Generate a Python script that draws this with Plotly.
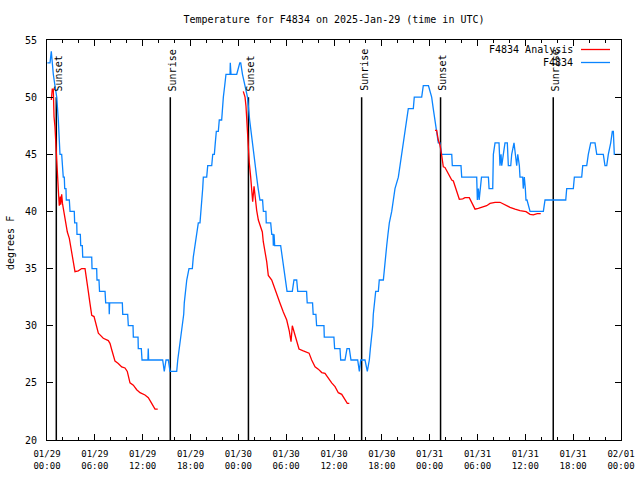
import pandas as pd
import plotly.graph_objects as go

BASE = pd.Timestamp("2025-01-29 00:00")

# Observed station temperature (hours after 01/29 00:00 UTC, degrees F)
obs_hours = [0.04, 0.38, 0.54, 0.66, 0.79, 1.00, 1.22, 1.42, 1.51, 1.63, 1.84, 1.92, 1.97, 2.04, 2.17, 2.22,
             2.38, 2.42, 2.80, 2.89, 3.42, 3.47, 3.73, 3.76, 4.18, 4.23, 4.43, 4.48, 5.61, 5.65, 6.23, 6.27,
             6.52, 6.59, 7.28, 7.36, 7.78, 7.81, 7.86, 9.45, 9.50, 10.12, 10.20, 10.79, 10.83, 11.42, 11.45,
             11.83, 11.92, 12.66, 12.70, 12.75, 14.51, 14.71, 14.93, 15.22, 15.43, 16.27, 16.40, 16.60,
             16.81, 17.02, 17.15, 17.22, 17.35, 17.53, 17.81, 18.23, 18.35, 18.57, 18.78, 18.98, 19.19,
             19.32, 19.44, 19.53, 19.61, 20.03, 20.16, 20.66, 20.79, 20.99, 21.11, 21.24, 21.49, 21.61,
             21.91, 21.99, 22.12, 22.29, 22.45, 22.96, 22.99, 23.08, 23.80, 24.18, 24.30, 24.52, 24.84,
             25.15, 25.42, 25.59, 25.75, 25.88, 26.09, 26.30, 26.49, 26.71, 27.04, 27.14, 27.46, 27.50,
             28.06, 28.19, 28.35, 28.39, 28.48, 28.56, 29.31, 29.52, 29.73, 29.89, 30.11, 30.77, 30.98,
             31.32, 31.45, 32.56, 32.64, 33.31, 33.39, 33.73, 33.82, 34.74, 34.78, 35.99, 36.08, 36.75,
             36.84, 37.38, 37.63, 37.92, 38.13, 38.97, 39.18, 39.35, 39.89, 40.18, 40.43, 40.56, 40.73,
             40.86, 40.93, 41.06, 41.23, 41.56, 41.68, 42.19, 42.31, 42.43, 42.61, 42.77, 42.94, 43.24,
             43.44, 43.65, 44.07, 44.28, 44.49, 44.69, 44.91, 45.12, 45.32, 45.95, 46.07, 47.00, 47.20,
             47.85, 48.25, 48.45, 48.66, 48.88, 49.08, 49.29, 49.50, 50.77, 50.84, 51.93, 52.02, 53.90,
             53.98, 54.11, 54.21, 54.50, 55.37, 55.45, 55.91, 55.99, 56.20, 56.70, 56.82, 56.95, 57.04,
             57.24, 57.45, 57.74, 57.87, 58.17, 58.29, 58.58, 58.71, 58.92, 59.05, 59.25, 59.33, 59.67,
             59.74, 59.87, 60.00, 60.08, 60.21, 60.59, 62.26, 62.47, 65.07, 65.19, 66.02, 66.15, 67.07,
             67.20, 67.70, 67.90, 68.20, 68.74, 68.96, 69.78, 69.99, 70.21, 70.41, 70.71, 70.91, 71.04,
             71.16, 72.00]
obs_temp = [53, 53, 54, 53, 52, 51, 50, 48, 47, 45, 45, 44, 44, 43, 43, 42,
            42, 41, 41, 40, 40, 39, 39, 38, 38, 37, 37, 36, 36, 35, 35, 34,
            34, 33, 33, 32, 32, 31, 32, 32, 31, 31, 30, 30, 29, 29, 28,
            28, 27, 27, 28, 27, 27, 26, 27, 27, 26, 26, 27, 28,
            29, 30, 31, 32, 33, 34, 35, 35, 36, 37, 38, 39, 39,
            40, 41, 42, 43, 43, 44, 44, 45, 45, 46, 47, 47, 48,
            48, 49, 50, 51, 52, 52, 53, 52, 52, 53, 53, 52, 51,
            50, 48, 47, 46, 45, 44, 43, 42, 41, 41, 40, 40, 39,
            39, 38, 38, 37, 38, 37, 37, 36, 35, 34, 33, 33, 34,
            34, 33, 33, 32, 32, 31, 31, 30, 30, 29, 29, 28, 28,
            27, 27, 28, 28, 27, 27, 26, 27, 27, 26, 27, 28, 29,
            30, 31, 32, 33, 33, 34, 34, 35, 36, 37, 38, 39, 40,
            41, 42, 43, 44, 45, 46, 47, 48, 49, 49, 50, 50, 51,
            51, 50, 49, 48, 47, 46, 46, 45, 45, 44, 44, 43, 43,
            41, 42, 41, 43, 43, 42, 42, 45, 46, 46, 44, 45, 44,
            45, 46, 46, 44, 44, 45, 46, 45, 44, 45, 44, 43, 43,
            42, 43, 42, 41, 41, 40, 40, 41, 41, 42, 42, 43, 43,
            44, 44, 45, 46, 46, 45, 45, 44, 44, 45, 46, 47, 47,
            45, 45]

# Analysis temperature, three segments separated by gaps
ana_hours = [0.54, 0.66, 0.79, 0.80, 0.88, 1.00, 1.09, 1.22, 1.29, 1.42, 1.54, 1.67, 1.72, 1.84, 1.94,
             2.04, 2.26, 2.35, 2.55, 2.80, 3.10, 3.30, 3.51, 3.93, 4.35, 4.77, 4.98, 5.18, 5.39, 5.61,
             5.90, 6.15, 6.44, 6.65, 7.06, 7.69, 7.90, 8.12, 8.32, 8.53, 8.94, 9.37, 9.78, 10.07, 10.41,
             10.83, 11.25, 11.67, 12.29, 12.71, 13.13, 13.55, 13.89,
             None,
             24.62, 24.84, 24.96, 25.05, 25.13, 25.25, 25.38, 25.55, 25.68, 25.80, 25.97, 26.09, 26.30,
             26.51, 26.81, 27.01, 27.13, 27.35, 27.56, 27.76, 28.19, 28.39, 28.81, 29.23, 29.64, 30.07,
             30.40, 30.61, 30.77, 30.98, 31.32, 31.61, 32.15, 32.87, 33.20, 33.62, 34.03, 34.46, 34.87,
             35.29, 35.71, 36.13, 36.54, 36.97, 37.38, 37.67, 37.92,
             None,
             48.67, 48.88, 49.08, 49.30, 49.51, 49.71, 49.92, 50.34, 50.77, 50.97, 51.18, 51.39, 51.72,
             52.15, 52.43, 52.97, 53.27, 53.69, 54.10, 54.73, 55.15, 55.57, 56.20, 56.82, 57.24, 57.67,
             58.08, 58.71, 59.33, 60.09, 60.59, 61.00, 61.50, 61.93]
ana_temp = [49.75, 50.7, 50.7, 49.2, 48.3, 47.4, 46.0, 44.4, 42.9, 41.9, 40.5, 41.3, 40.6, 41.5, 40.7,
            40.3, 39.4, 39.0, 38.2, 37.65, 36.5, 35.6, 34.73, 34.8, 35.0, 35.0, 34.15, 33.0, 31.96, 30.9,
            30.8, 30.06, 29.34, 29.2, 28.9, 28.7, 28.46, 27.9, 27.3, 26.9, 26.7, 26.4, 26.3, 26.0, 25.0,
            24.8, 24.4, 24.14, 23.94, 23.7, 23.2, 22.7, 22.7,
            None,
            50.5, 50.0, 49.2, 48.0, 46.5, 45.4, 44.2, 43.0, 41.6, 40.85, 42.2, 41.3, 40.1,
            39.25, 38.5, 38.2, 37.35, 36.6, 35.6, 34.4, 33.99, 33.6, 32.7, 31.96, 31.2, 30.5,
            29.5, 28.6, 30.0, 29.5, 28.6, 27.96, 27.8, 27.6, 27.0, 26.4, 26.2, 25.9, 25.84,
            25.4, 25.0, 24.67, 24.14, 24.0, 23.56, 23.2, 23.2,
            None,
            47.1, 47.1, 46.25, 45.8, 44.9, 43.9, 43.85, 43.3, 42.75, 42.66, 42.2, 41.6, 41.06,
            41.1, 41.2, 41.2, 40.77, 40.2, 40.27, 40.4, 40.5, 40.7, 40.8, 40.8, 40.65, 40.5,
            40.36, 40.2, 40.07, 39.98, 39.75, 39.7, 39.8, 39.8]

sun_events = ["2025-01-29 01:10", "2025-01-29 15:28", "2025-01-30 01:16",
              "2025-01-30 15:28", "2025-01-31 01:22", "2025-01-31 15:30"]
sun_labels = ["Sunset", "Sunrise", "Sunset", "Sunrise", "Sunset", "Sunrise"]

tick_times = pd.date_range("2025-01-29 00:00", "2025-02-01 00:00", freq="6h")
tick_text = [t.strftime("%m/%d<br>%H:%M") for t in tick_times]
y_ticks = [20, 25, 30, 35, 40, 45, 50, 55]

FONT = "DejaVu Sans Mono"
RED = "#ff0000"
BLUE = "#0a84ff"


def to_time(hours):
    return [None if h is None else BASE + pd.Timedelta(hours=h) for h in hours]


fig = go.Figure()
fig.add_trace(go.Scatter(x=to_time(obs_hours), y=obs_temp, mode="lines", name="F4834",
                         line=dict(color=BLUE, width=1.3), connectgaps=False))
fig.add_trace(go.Scatter(x=to_time(ana_hours), y=ana_temp, mode="lines", name="F4834 Analysis",
                         line=dict(color=RED, width=1.3), connectgaps=False))

for t, lab in zip(sun_events, sun_labels):
    fig.add_shape(type="line", xref="x", yref="y", x0=t, x1=t, y0=20, y1=50,
                  line=dict(color="black", width=1.5), layer="below")
    fig.add_annotation(x=t, y=50.35, xref="x", yref="y", text=lab, textangle=-90,
                       showarrow=False, xanchor="center", yanchor="bottom", xshift=2,
                       font=dict(family=FONT, size=10, color="black"))

# Manual legend (text right-aligned, sample line to the right), as in the original
L, R, T, B = 47, 621, 40, 440
W, H = R - L, B - T
legend_rows = [("F4834 Analysis", RED, 49.5), ("F4834", BLUE, 62.5)]
for txt, col, py in legend_rows:
    yp = (B - py) / H
    fig.add_annotation(x=(575 - L) / W, y=yp, xref="paper", yref="paper", text=txt,
                       showarrow=False, xanchor="right", yanchor="middle",
                       font=dict(family=FONT, size=10, color="black"))
    fig.add_shape(type="line", xref="paper", yref="paper", x0=(581 - L) / W, x1=(610 - L) / W,
                  y0=yp, y1=yp, line=dict(color=col, width=1.3))

fig.add_annotation(x=(10 - L) / W, y=(B - 243) / H, xref="paper", yref="paper", text="degrees F",
                   textangle=-90, showarrow=False, xanchor="center", yanchor="middle",
                   font=dict(family=FONT, size=10, color="black"))

fig.update_layout(
    width=640, height=480,
    margin=dict(l=L, r=640 - R, t=T, b=480 - B, pad=0, autoexpand=False),
    paper_bgcolor="white", plot_bgcolor="white",
    showlegend=False,
    font=dict(family=FONT, size=10, color="black"),
    title=dict(text="Temperature for F4834 on 2025-Jan-29 (time in UTC)", x=(L + R) / 2 / 640,
               xanchor="center", y=1 - 19 / 480, yanchor="middle", yref="container",
               font=dict(family=FONT, size=10, color="black")),
    xaxis=dict(range=[tick_times[0], tick_times[-1]], tickmode="array", tickvals=list(tick_times),
               ticktext=tick_text, ticks="inside", ticklen=6, tickcolor="black", showline=True,
               linecolor="black", linewidth=1, mirror="ticks", showgrid=False, zeroline=False,
               automargin=False, tickfont=dict(family=FONT, size=9), ticklabelstandoff=5,
               minor=dict(dtick=2 * 3600 * 1000, ticks="inside", ticklen=3, tickcolor="black",
                          showgrid=False)),
    yaxis=dict(range=[20, 55], tickmode="array", tickvals=y_ticks, ticks="inside", ticklen=6,
               tickcolor="black", showline=True, linecolor="black", linewidth=1, mirror="ticks",
               showgrid=False, zeroline=False, automargin=False, tickfont=dict(family=FONT, size=10),
               ticklabelstandoff=7),
)

fig.write_html("out.html", config={"displayModeBar": False},
               post_script="document.body.style.margin='0';")
